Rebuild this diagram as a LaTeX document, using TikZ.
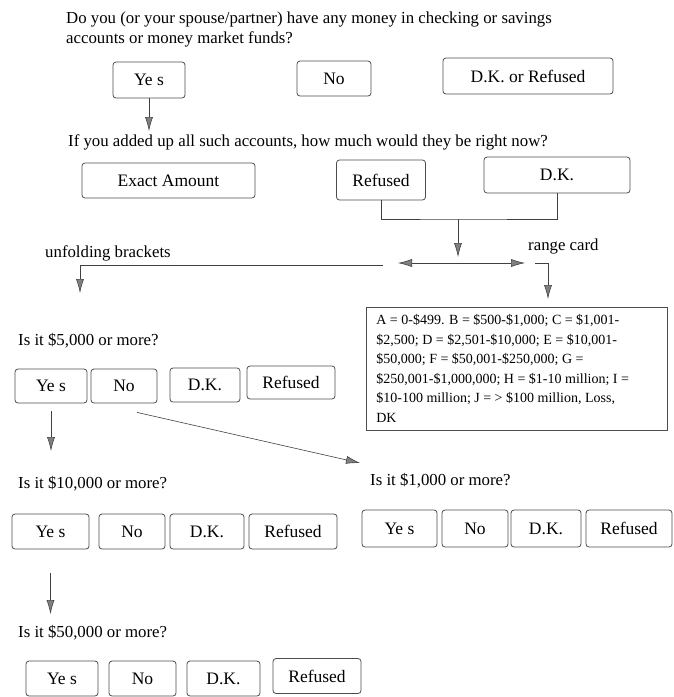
\documentclass[tikz,border=0pt]{standalone}
\usepackage{fontspec}
\setmainfont{Liberation Serif}
\usetikzlibrary{arrows.meta}

\begin{document}
\begin{tikzpicture}[x=1pt,y=-1pt,
  box/.style={draw=black!70,line width=0.8pt,rounded corners=3pt,inner sep=2pt,
    font=\fontsize{17.5}{20}\selectfont},
  qtext/.style={anchor=base west,inner sep=0pt,font=\fontsize{16.8}{20}\selectfont},
  tip/.style={-{Latex[length=14pt,width=8pt,fill=black!50]}},
  arr/.style={draw=black!75,line width=0.6pt,tip}]
\useasboundingbox (0,0) rectangle (673,697);

\node[qtext] (q1a) at (66,23) {Do you (or your spouse/partner) have any money in checking or savings};
\node[qtext] (q1b) at (66,43) {accounts or money market funds?};
\node[box,minimum width=72pt,minimum height=36pt] (yes1) at (149,80) {Ye s};
\node[box,minimum width=74pt,minimum height=35pt] (no1) at (334,78.5) {No};
\node[box,minimum width=170pt,minimum height=36pt] (dkr1) at (528,76) {D.K. or Refused};
\coordinate (q2tip) at (149,131);
\draw[arr] (yes1.south) -- (q2tip);

\node[qtext] (q2) at (68,146) {If you added up all such accounts, how much would they be right now?};
\node[box,minimum width=173pt,minimum height=35pt] (exact) at (168.5,180.5) {Exact Amount};
\node[box,minimum width=89pt,minimum height=40pt] (ref2) at (381,180) {Refused};
\node[box,minimum width=146pt,minimum height=36pt] (dk2) at (557,175) {D.K.};
\draw[draw=black!75,line width=0.6pt] (ref2.south) |- (458,219) coordinate (join) -| (dk2.south);
\coordinate (jointip) at (458,257);
\draw[arr] (join) -- (jointip);

\node[qtext] (unf) at (45,257) {unfolding brackets};
\node[qtext] (rcard) at (528,250) {range card};
\coordinate (dl) at (398,263);
\coordinate (dr) at (525,263);
\draw[draw=black!75,line width=0.6pt,{Latex[length=14pt,width=8pt,fill=black!50]}-{Latex[length=14pt,width=8pt,fill=black!50]}] (dl) -- (dr);
\coordinate (lstart) at (383,265);
\coordinate (unftip) at (80,293);
\draw[arr] (lstart) -| (unftip);
\coordinate (rstart) at (535,263);
\coordinate (rctip) at (548,299);
\draw[arr] (rstart) -| (rctip);

\node[draw=black!70,line width=0.8pt,minimum width=301pt,minimum height=123pt,
  inner sep=4pt,align=left,font=\fontsize{14}{19.5}\selectfont] (range) at (516.5,368.5)
  {A = 0-\$499. B = \$500-\$1,000; C = \$1,001-\\
   \$2,500; D = \$2,501-\$10,000; E = \$10,001-\\
   \$50,000; F = \$50,001-\$250,000; G =\\
   \$250,001-\$1,000,000; H = \$1-10 million; I =\\
   \$10-100 million; J = > \$100 million, Loss,\\
   DK\hspace*{260pt}};

\node[qtext] (q5) at (18,345) {Is it \$5,000 or more?};
\node[box,minimum width=72pt,minimum height=34pt] (yes5) at (51,386) {Ye s};
\node[box,minimum width=66pt,minimum height=34pt] (no5) at (124,386) {No};
\node[box,minimum width=70pt,minimum height=34pt] (dk5) at (205,385) {D.K.};
\node[box,minimum width=88pt,minimum height=33pt] (ref5) at (291,382.5) {Refused};
\coordinate (q10tip) at (51,451);
\draw[arr] ([yshift=-8pt]yes5.south) -- (q10tip);
\coordinate (q1ktip) at (360,463);
\draw[arr] ([xshift=13pt,yshift=-9pt]no5.south) -- (q1ktip);

\node[qtext] (q10) at (18,488) {Is it \$10,000 or more?};
\node[box,minimum width=77pt,minimum height=35pt] (yes10) at (50.5,531.5) {Ye s};
\node[box,minimum width=66pt,minimum height=35pt] (no10) at (132,531.5) {No};
\node[box,minimum width=74pt,minimum height=35pt] (dk10) at (207,531.5) {D.K.};
\node[box,minimum width=88pt,minimum height=35pt] (ref10) at (293,531.5) {Refused};

\node[qtext] (q1k) at (370,485) {Is it \$1,000 or more?};
\node[box,minimum width=75pt,minimum height=37pt] (yes1k) at (399.5,528.5) {Ye s};
\node[box,minimum width=66pt,minimum height=37pt] (no1k) at (475,528.5) {No};
\node[box,minimum width=70pt,minimum height=37pt] (dk1k) at (546,528.5) {D.K.};
\node[box,minimum width=86pt,minimum height=37pt] (ref1k) at (629,528.5) {Refused};

\coordinate (q50tip) at (50.5,614);
\draw[arr] ([yshift=-24pt]yes10.south) -- (q50tip);
\node[qtext] (q50) at (18,637) {Is it \$50,000 or more?};
\node[box,minimum width=72pt,minimum height=35pt] (yes50) at (62,678.5) {Ye s};
\node[box,minimum width=67pt,minimum height=35pt] (no50) at (142.5,678.5) {No};
\node[box,minimum width=73pt,minimum height=35pt] (dk50) at (223.5,678.5) {D.K.};
\node[box,minimum width=88pt,minimum height=35pt] (ref50) at (317,676) {Refused};
\end{tikzpicture}
\end{document}
